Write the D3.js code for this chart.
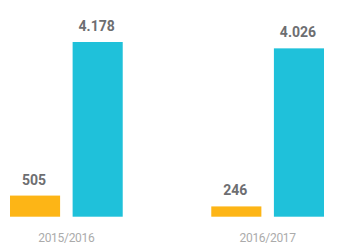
<!DOCTYPE html>
<html>
<head>
<meta charset="utf-8">
<script src="https://cdn.jsdelivr.net/npm/d3@7"></script>
<style>
  body { margin: 0; background: #fff; }
  text { font-family: Roboto, "Open Sans", sans-serif; }
</style>
</head>
<body>
<div id="chart"></div>
<script>
const seasons = ["2015/2016", "2016/2017"];
const seriesNames = ["a", "b"];
const seriesA = [505, 246];
const seriesB = [4178, 4026];

const width = 337;
const height = 246;
const colors = { a: "#FDB516", b: "#1FC1DA" };

const rows = seasons.map((s, i) => ({ season: s, a: seriesA[i], b: seriesB[i] }));

const fmt = d3.formatLocale({ decimal: ",", thousands: ".", grouping: [3], currency: ["", ""] }).format(",d");

const svg = d3.select("#chart")
    .append("svg")
    .attr("width", width)
    .attr("height", height);

const x0 = d3.scaleBand()
    .domain(seasons)
    .range([10, 324])
    .paddingInner(0.44)
    .paddingOuter(0);

const x1 = d3.scaleBand()
    .domain(seriesNames)
    .range([0, x0.bandwidth()])
    .paddingInner(0.2);

const y = d3.scaleLinear()
    .domain([0, 4178])
    .range([216.7, 42]);

const groups = svg.selectAll(".group")
    .data(rows)
    .enter()
    .append("g")
    .attr("transform", d => "translate(" + x0(d.season) + ",0)");

groups.selectAll("rect")
    .data(d => seriesNames.map(k => ({ key: k, value: d[k] })))
    .enter()
    .append("rect")
    .attr("x", d => x1(d.key))
    .attr("y", d => y(d.value))
    .attr("width", x1.bandwidth())
    .attr("height", d => y(0) - y(d.value))
    .attr("fill", d => colors[d.key]);

groups.selectAll(".val")
    .data(d => seriesNames.map(k => ({ key: k, value: d[k] })))
    .enter()
    .append("text")
    .attr("class", "val")
    .attr("x", d => x1(d.key) + x1.bandwidth() / 2 - 1)
    .attr("y", d => y(d.value) - 11)
    .attr("text-anchor", "middle")
    .attr("font-size", 14)
    .attr("font-weight", "bold")
    .attr("fill", "#6D6E71")
    .text(d => fmt(d.value));

// category labels
svg.append("g")
    .selectAll("text")
    .data(seasons)
    .enter()
    .append("text")
    .attr("x", d => x0(d) + x0.bandwidth() / 2)
    .attr("y", 242)
    .attr("text-anchor", "middle")
    .attr("font-size", 12)
    .attr("letter-spacing", -0.3)
    .attr("fill", "#ABABAB")
    .text(d => d);
</script>
</body>
</html>
